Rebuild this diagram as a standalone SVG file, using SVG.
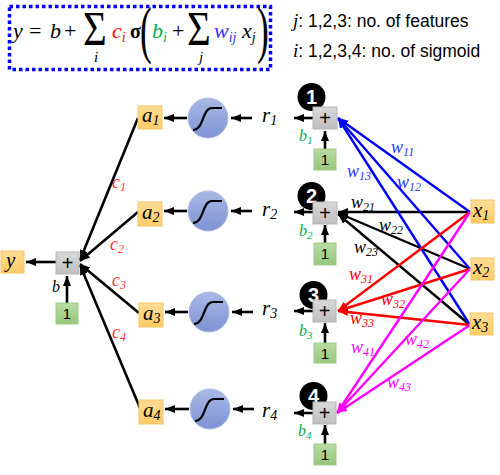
<svg xmlns="http://www.w3.org/2000/svg" xmlns:xlink="http://www.w3.org/1999/xlink" width="500" height="475" viewBox="0 0 500 475">
<style>
.m{font-family:"Liberation Serif",serif;font-style:italic;}
.up{font-family:"Liberation Serif",serif;font-style:normal;}
.s{font-family:"Liberation Sans",Arial,sans-serif;}
.abox{fill:url(#gA);stroke:#F4C36A;stroke-width:1;}
.pbox{fill:url(#gP);stroke:#B5B5B5;stroke-width:1;}
.obox{fill:url(#gO);stroke:#9CCB84;stroke-width:1;}
.sig{fill:url(#gS);stroke:#AFBDE3;stroke-width:1;}
.k{stroke:#000;stroke-width:2.6;fill:none;marker-end:url(#ak);}
.bl{stroke:#0000FF;stroke-width:2.4;fill:none;marker-end:url(#ab);}
.rd{stroke:#FF0000;stroke-width:2.4;fill:none;marker-end:url(#ar);}
.mg{stroke:#FF00FF;stroke-width:2.4;fill:none;marker-end:url(#am);}
.kl{stroke:#000;stroke-width:2.4;fill:none;marker-end:url(#ak);}
.badge{fill:#000;}
.bn{font-family:"Liberation Sans",Arial,sans-serif;font-weight:bold;font-size:20px;fill:#fff;text-anchor:middle;}
.one{font-family:"Liberation Sans",Arial,sans-serif;font-size:15px;text-anchor:middle;fill:#000;}
.plus{font-family:"Liberation Sans",Arial,sans-serif;font-size:20px;text-anchor:middle;fill:#000;}
.wl{font-family:"Liberation Serif",serif;font-style:italic;font-size:18px;}
</style>
<defs>
<linearGradient id="gA" x1="0" y1="0" x2="0" y2="1"><stop offset="0" stop-color="#FFDC96"/><stop offset="1" stop-color="#FFCC66"/></linearGradient>
<linearGradient id="gP" x1="0" y1="0" x2="0" y2="1"><stop offset="0" stop-color="#D9D9D9"/><stop offset="1" stop-color="#BFBFBF"/></linearGradient>
<linearGradient id="gO" x1="0" y1="0" x2="0" y2="1"><stop offset="0" stop-color="#B9DBA3"/><stop offset="1" stop-color="#98C77C"/></linearGradient>
<linearGradient id="gS" x1="0" y1="0" x2="0" y2="1"><stop offset="0" stop-color="#A9B8E4"/><stop offset="1" stop-color="#7D93D4"/></linearGradient>
<marker id="ak" viewBox="0 0 10 8" refX="10" refY="4" markerWidth="10" markerHeight="8" markerUnits="userSpaceOnUse" orient="auto"><path d="M0,0 L10,4 L0,8 z" fill="#000"/></marker>
<marker id="ab" viewBox="0 0 10 8" refX="10" refY="4" markerWidth="10" markerHeight="8" markerUnits="userSpaceOnUse" orient="auto"><path d="M0,0 L10,4 L0,8 z" fill="#0000FF"/></marker>
<marker id="ar" viewBox="0 0 10 8" refX="10" refY="4" markerWidth="10" markerHeight="8" markerUnits="userSpaceOnUse" orient="auto"><path d="M0,0 L10,4 L0,8 z" fill="#FF0000"/></marker>
<marker id="am" viewBox="0 0 10 8" refX="10" refY="4" markerWidth="10" markerHeight="8" markerUnits="userSpaceOnUse" orient="auto"><path d="M0,0 L10,4 L0,8 z" fill="#FF00FF"/></marker>
<path id="sc" d="M-15,12 C-4,12 -6,-10 4,-10 L14,-10" fill="none" stroke="#000" stroke-width="2.2"/>
</defs>

<!-- Equation -->
<g id="equation">
<rect x="9.5" y="6.5" width="261" height="63" fill="none" stroke="#0000FF" stroke-width="3.5" stroke-dasharray="3.5 3"/>
<text class="m" x="13" y="38" font-size="22">y</text>
<text class="up" x="29" y="38" font-size="22">=</text>
<text class="m" x="50" y="38" font-size="22">b</text>
<text class="up" x="64" y="38" font-size="22">+</text>
<text class="up" transform="translate(83,45) scale(0.85,1)" font-size="48">Σ</text>
<text class="m" x="94" y="62" font-size="15">i</text>
<text class="m" x="112" y="38" font-size="22" fill="#FF0000">c<tspan font-size="14" dy="4">i</tspan></text>
<text class="up" x="130" y="38" font-size="20" font-weight="bold">σ</text>
<text class="up" transform="translate(140,51) scale(0.55,1)" font-size="64">(</text>
<text class="m" x="152" y="38" font-size="22" fill="#00B050">b<tspan font-size="14" dy="4">i</tspan></text>
<text class="up" x="172" y="38" font-size="22">+</text>
<text class="up" transform="translate(187,45) scale(0.85,1)" font-size="48">Σ</text>
<text class="m" x="199" y="62" font-size="15">j</text>
<text class="m" x="214" y="38" font-size="22" fill="#3333FF">w<tspan font-size="14" dy="4">ij</tspan></text>
<text class="m" x="242" y="38" font-size="22">x<tspan font-size="14" dy="4">j</tspan></text>
<text class="up" transform="translate(257,51) scale(0.55,1)" font-size="64">)</text>
</g>

<g id="legend">
<text x="293" y="27" font-size="17.5" class="s"><tspan class="m" font-size="19">j</tspan>: 1,2,3: no. of features</text>
<text x="293" y="57" font-size="17.5" class="s"><tspan class="m" font-size="19">i</tspan>: 1,2,3,4: no. of sigmoid</text>
</g>

<!-- Connectors -->
<g id="connectors">
<line class="k" x1="56" y1="262" x2="26" y2="262"/>
<line class="k" x1="67" y1="303" x2="67" y2="276"/>
<line class="k" x1="138" y1="118" x2="80" y2="260"/>
<line class="k" x1="138" y1="212" x2="80" y2="261"/>
<line class="k" x1="139" y1="313" x2="80" y2="264"/>
<line class="k" x1="140" y1="408" x2="80" y2="265"/>
<line class="k" x1="187" y1="118" x2="164" y2="118"/>
<line class="k" x1="187" y1="211" x2="164" y2="211"/>
<line class="k" x1="188" y1="312" x2="165" y2="312"/>
<line class="k" x1="189" y1="409" x2="165" y2="409"/>
<line class="k" x1="252" y1="118" x2="231" y2="118"/>
<line class="k" x1="252" y1="211" x2="231" y2="211"/>
<line class="k" x1="253" y1="312" x2="232" y2="312"/>
<line class="k" x1="254" y1="409" x2="233" y2="409"/>
<line class="k" x1="313" y1="118" x2="294" y2="118"/>
<line class="k" x1="313" y1="212" x2="294" y2="212"/>
<line class="k" x1="313" y1="311" x2="294" y2="311"/>
<line class="k" x1="313" y1="413" x2="294" y2="413"/>
<line class="k" x1="325" y1="149" x2="325" y2="131"/>
<line class="k" x1="325" y1="243" x2="325" y2="225"/>
<line class="k" x1="325" y1="343" x2="325" y2="323"/>
<line class="k" x1="325" y1="444" x2="325" y2="425"/>
<line class="kl" x1="470" y1="212" x2="338" y2="212"/>
<line class="kl" x1="470" y1="269" x2="338" y2="213"/>
<line class="kl" x1="470" y1="325" x2="338" y2="214"/>
<line class="bl" x1="470" y1="212" x2="338" y2="118"/>
<line class="bl" x1="470" y1="269" x2="338" y2="118"/>
<line class="bl" x1="470" y1="325" x2="338" y2="118"/>
<line class="rd" x1="470" y1="212" x2="338" y2="311"/>
<line class="rd" x1="470" y1="269" x2="338" y2="311"/>
<line class="rd" x1="470" y1="325" x2="338" y2="311"/>
<line class="mg" x1="470" y1="212" x2="337" y2="413"/>
<line class="mg" x1="470" y1="269" x2="337" y2="413"/>
<line class="mg" x1="470" y1="325" x2="337" y2="413"/>
</g>

<!-- connector labels -->
<g id="labels-c" fill="#FF3333">
<text class="wl" x="112" y="188">c<tspan font-size="12" dy="3">1</tspan></text>
<text class="wl" x="110" y="250">c<tspan font-size="12" dy="3">2</tspan></text>
<text class="wl" x="112" y="286">c<tspan font-size="12" dy="3">3</tspan></text>
<text class="wl" x="112" y="338">c<tspan font-size="12" dy="3">4</tspan></text>
</g>
<g id="labels-w">
<text class="wl" x="391" y="153" fill="#3333FF">w<tspan font-size="12" dy="3">11</tspan></text>
<text class="wl" x="347" y="177" fill="#3333FF">w<tspan font-size="12" dy="3">13</tspan></text>
<text class="wl" x="397" y="188" fill="#3333FF">w<tspan font-size="12" dy="3">12</tspan></text>
<text class="wl" x="351" y="208" fill="#000">w<tspan font-size="12" dy="3">21</tspan></text>
<text class="wl" x="379" y="231" fill="#000">w<tspan font-size="12" dy="3">22</tspan></text>
<text class="wl" x="354" y="253" fill="#000">w<tspan font-size="12" dy="3">23</tspan></text>
<text class="wl" x="349" y="280" fill="#FF0000">w<tspan font-size="12" dy="3">31</tspan></text>
<text class="wl" x="381" y="305" fill="#FF0000">w<tspan font-size="12" dy="3">32</tspan></text>
<text class="wl" x="350" y="324" fill="#FF0000">w<tspan font-size="12" dy="3">33</tspan></text>
<text class="wl" x="351" y="353" fill="#FF00FF">w<tspan font-size="12" dy="3">41</tspan></text>
<text class="wl" x="405" y="345" fill="#FF00FF">w<tspan font-size="12" dy="3">42</tspan></text>
<text class="wl" x="387" y="388" fill="#FF00FF">w<tspan font-size="12" dy="3">43</tspan></text>
</g>

<!-- Output part -->
<g id="y-out">
<rect class="abox" x="1" y="251" width="23" height="22"/>
<text class="m" x="6" y="267" font-size="21">y</text>
</g>
<g id="sum-out">
<rect class="pbox" x="56" y="252" width="23" height="22"/>
<text class="plus" x="67.5" y="270">+</text>
</g>
<g id="bias-out">
<rect class="obox" x="56" y="303" width="22" height="21"/>
<text class="one" x="67" y="319">1</text>
<text class="m" x="52" y="292" font-size="16">b</text>
</g>

<!-- a nodes -->
<g id="a1"><rect class="abox" x="138" y="106" width="24" height="23"/><text class="m" x="142" y="122" font-size="21">a<tspan font-size="14" dy="3">1</tspan></text></g>
<g id="a2"><rect class="abox" x="138" y="202" width="24" height="24"/><text class="m" x="142" y="219" font-size="21">a<tspan font-size="14" dy="3">2</tspan></text></g>
<g id="a3"><rect class="abox" x="139" y="303" width="24" height="24"/><text class="m" x="143" y="320" font-size="21">a<tspan font-size="14" dy="3">3</tspan></text></g>
<g id="a4"><rect class="abox" x="139" y="400" width="24" height="24"/><text class="m" x="143" y="417" font-size="21">a<tspan font-size="14" dy="3">4</tspan></text></g>

<!-- sigmoid nodes -->
<g id="sig1"><circle class="sig" cx="208" cy="118" r="20"/><use xlink:href="#sc" transform="translate(208,118)"/></g>
<g id="sig2"><circle class="sig" cx="208" cy="211" r="20"/><use xlink:href="#sc" transform="translate(208,211)"/></g>
<g id="sig3"><circle class="sig" cx="209" cy="312" r="20"/><use xlink:href="#sc" transform="translate(209,312)"/></g>
<g id="sig4"><circle class="sig" cx="210" cy="409" r="20"/><use xlink:href="#sc" transform="translate(210,409)"/></g>

<!-- r labels -->
<g id="r-labels">
<text class="m" x="262" y="122" font-size="21">r<tspan font-size="14" dy="3">1</tspan></text>
<text class="m" x="262" y="216" font-size="21">r<tspan font-size="14" dy="3">2</tspan></text>
<text class="m" x="262" y="315" font-size="21">r<tspan font-size="14" dy="3">3</tspan></text>
<text class="m" x="262" y="417" font-size="21">r<tspan font-size="14" dy="3">4</tspan></text>
</g>

<!-- sum nodes -->
<g id="sum1">
<circle class="badge" cx="311.5" cy="97" r="14"/><text class="bn" x="311.5" y="104">1</text>
<rect class="pbox" x="313" y="107" width="24" height="22"/><text class="plus" x="325" y="125">+</text>
<rect class="obox" x="314" y="149" width="22" height="21"/><text class="one" x="325" y="165">1</text>
<text class="m" x="299" y="141" font-size="16" fill="#00B050">b<tspan font-size="11" dy="3">1</tspan></text>
</g>
<g id="sum2">
<circle class="badge" cx="311.5" cy="196" r="14"/><text class="bn" x="311.5" y="203">2</text>
<rect class="pbox" x="313" y="202" width="24" height="22"/><text class="plus" x="325" y="220">+</text>
<rect class="obox" x="314" y="243" width="22" height="22"/><text class="one" x="325" y="259">1</text>
<text class="m" x="299" y="236" font-size="16" fill="#00B050">b<tspan font-size="11" dy="3">2</tspan></text>
</g>
<g id="sum3">
<circle class="badge" cx="313.5" cy="295" r="14"/><text class="bn" x="313.5" y="302">3</text>
<rect class="pbox" x="313" y="300" width="23" height="22"/><text class="plus" x="324.5" y="318">+</text>
<rect class="obox" x="314" y="343" width="22" height="20"/><text class="one" x="325" y="359">1</text>
<text class="m" x="299" y="336" font-size="16" fill="#00B050">b<tspan font-size="11" dy="3">3</tspan></text>
</g>
<g id="sum4">
<circle class="badge" cx="313.5" cy="396" r="14"/><text class="bn" x="313.5" y="403">4</text>
<rect class="pbox" x="313" y="402" width="23" height="22"/><text class="plus" x="324.5" y="420">+</text>
<rect class="obox" x="314" y="444" width="22" height="21"/><text class="one" x="325" y="460">1</text>
<text class="m" x="298" y="436" font-size="16" fill="#00B050">b<tspan font-size="11" dy="3">4</tspan></text>
</g>

<!-- x nodes -->
<g id="x1"><rect class="abox" x="471" y="200" width="23" height="23"/><text class="m" x="473" y="217" font-size="21">x<tspan font-size="14" dy="3">1</tspan></text></g>
<g id="x2"><rect class="abox" x="471" y="258" width="23" height="22"/><text class="m" x="473" y="274" font-size="21">x<tspan font-size="14" dy="3">2</tspan></text></g>
<g id="x3"><rect class="abox" x="470" y="313" width="23" height="22"/><text class="m" x="472" y="329" font-size="21">x<tspan font-size="14" dy="3">3</tspan></text></g>
</svg>
